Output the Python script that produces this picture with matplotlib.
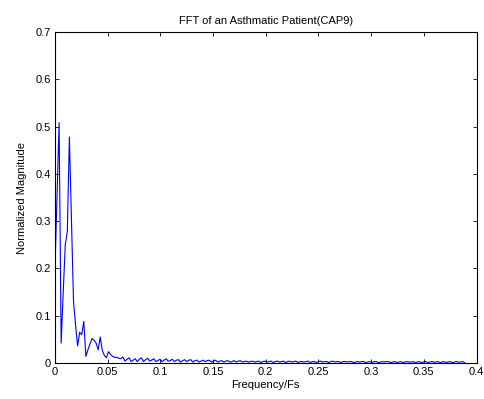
import numpy as np
import matplotlib
matplotlib.use('Agg')
import matplotlib.pyplot as plt

# FFT bins (step 1/512) and normalized magnitudes
n_bins = 200
bin_step = 1.0 / 512
magnitude = [
    0.200, 0.355, 0.508, 0.042, 0.150, 0.250, 0.278, 0.478, 0.300, 0.130,
    0.080, 0.036, 0.065, 0.060, 0.088, 0.014, 0.028, 0.040, 0.052, 0.048,
    0.042, 0.028, 0.055, 0.026, 0.016, 0.011, 0.024, 0.018, 0.014, 0.012,
    0.012, 0.010, 0.009, 0.013, 0.004, 0.008, 0.011, 0.003, 0.006, 0.009,
    0.003, 0.008, 0.011, 0.003, 0.007, 0.010, 0.004, 0.006, 0.009, 0.003,
    0.005, 0.008, 0.003, 0.006, 0.009, 0.004, 0.005, 0.008, 0.003, 0.006,
    0.007, 0.002, 0.005, 0.007, 0.003, 0.006, 0.007, 0.002, 0.005, 0.006,
    0.002, 0.004, 0.006, 0.003, 0.005, 0.006, 0.002, 0.004, 0.006, 0.002,
    0.004, 0.005, 0.002, 0.004, 0.005, 0.002, 0.003, 0.005, 0.002, 0.004,
    0.005, 0.002, 0.003, 0.004, 0.002, 0.003, 0.004, 0.002, 0.003, 0.004,
    0.001, 0.003, 0.004, 0.002, 0.003, 0.004, 0.001, 0.003, 0.004, 0.002,
    0.003, 0.004, 0.001, 0.003, 0.004, 0.002, 0.003, 0.004, 0.001, 0.003,
    0.003, 0.002, 0.003, 0.004, 0.001, 0.003, 0.003, 0.001, 0.003, 0.004,
    0.002, 0.003, 0.003, 0.001, 0.003, 0.004, 0.002, 0.003, 0.003, 0.001,
    0.003, 0.003, 0.002, 0.003, 0.003, 0.001, 0.002, 0.003, 0.002, 0.003,
    0.003, 0.001, 0.002, 0.003, 0.001, 0.003, 0.003, 0.001, 0.002, 0.003,
    0.002, 0.003, 0.003, 0.001, 0.002, 0.003, 0.001, 0.002, 0.003, 0.001,
    0.002, 0.003, 0.002, 0.002, 0.003, 0.001, 0.002, 0.003, 0.001, 0.002,
    0.003, 0.001, 0.002, 0.003, 0.002, 0.002, 0.003, 0.001, 0.002, 0.003,
    0.001, 0.002, 0.003, 0.001, 0.002, 0.003, 0.002, 0.002, 0.003, 0.001,
]
x_ticks = [0, 0.05, 0.1, 0.15, 0.2, 0.25, 0.3, 0.35, 0.4]
x_tick_labels = ['0', '0.05', '0.1', '0.15', '0.2', '0.25', '0.3', '0.35', '0.4']
y_ticks = [0, 0.1, 0.2, 0.3, 0.4, 0.5, 0.6, 0.7]
y_tick_labels = ['0', '0.1', '0.2', '0.3', '0.4', '0.5', '0.6', '0.7']

freq = np.arange(n_bins) * bin_step

plt.rcParams['font.family'] = ['Liberation Sans', 'DejaVu Sans']
plt.rcParams['font.size'] = 8

fig = plt.figure(figsize=(4.84, 3.99), dpi=100)
ax = fig.add_axes([0.1136, 0.0902, 0.871, 0.8296])
ax.plot(freq, magnitude, color='#0000ff', linewidth=0.8)

ax.set_xlim(0, 0.4)
ax.set_ylim(0, 0.7)
ax.set_xticks(x_ticks)
ax.set_xticklabels(x_tick_labels)
ax.set_yticks(y_ticks)
ax.set_yticklabels(y_tick_labels)
ax.tick_params(direction='in', top=True, right=True, length=3, width=0.6, pad=3)
for s in ax.spines.values():
    s.set_linewidth(0.8)

ax.set_title('FFT of an Asthmatic Patient(CAP9)', fontsize=8, pad=6)
ax.set_xlabel('Frequency/Fs', labelpad=2)
ax.set_ylabel('Normalized Magnitude', labelpad=6)

fig.savefig('out.png', dpi=100)
